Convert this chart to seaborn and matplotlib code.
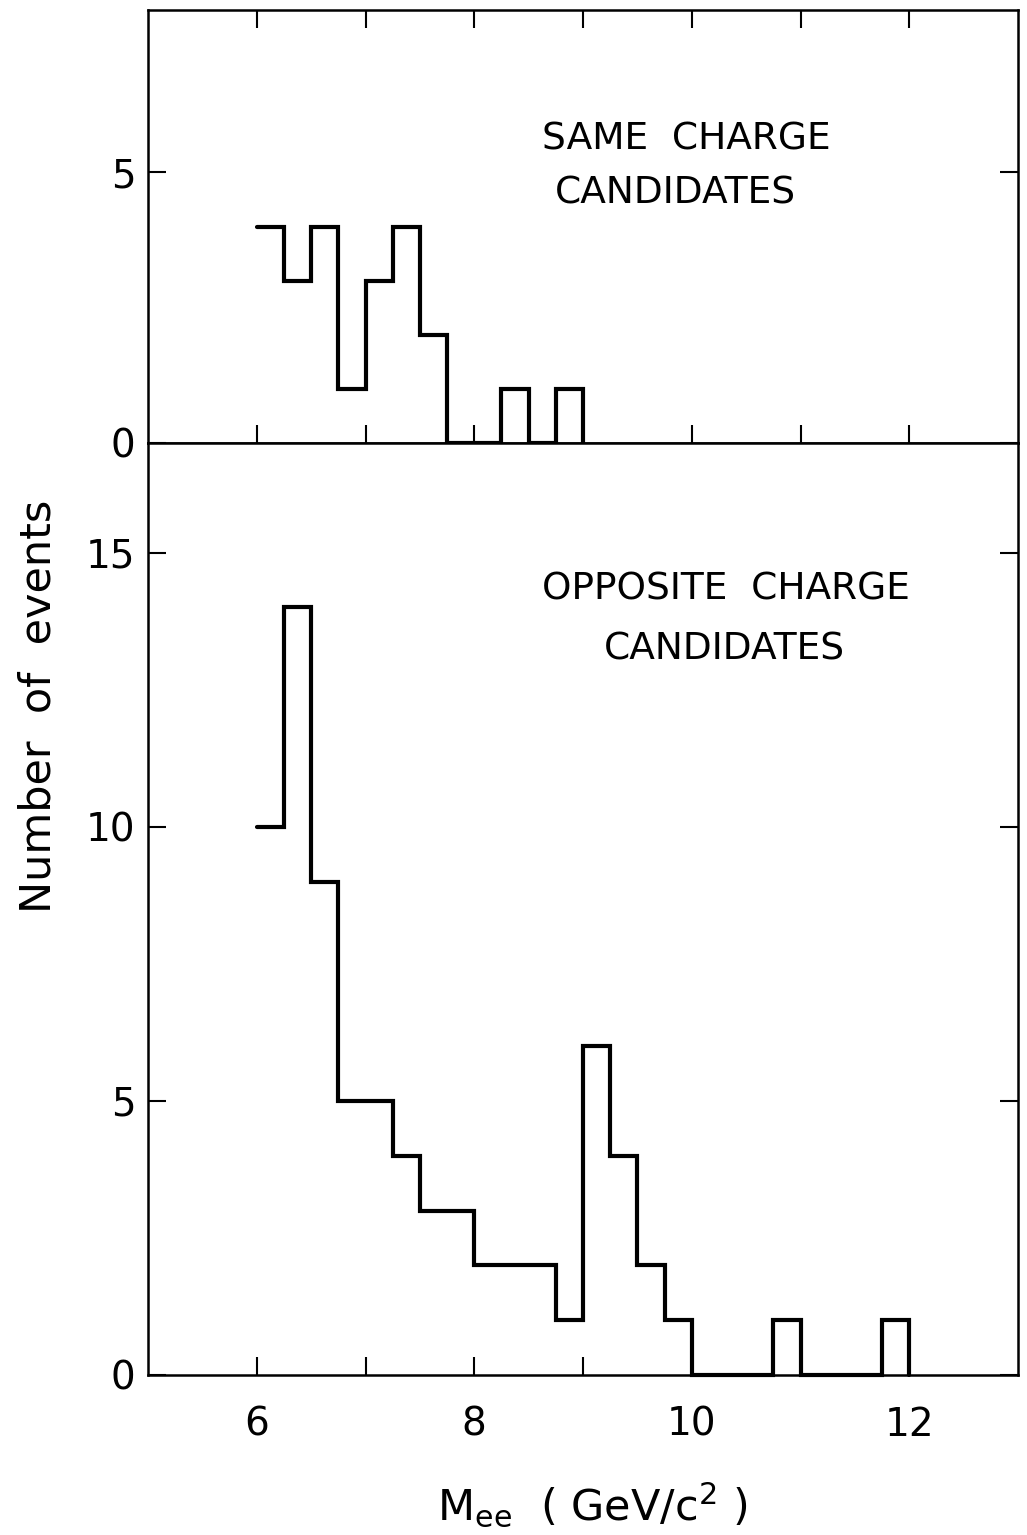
import numpy as np
import pandas as pd
import matplotlib
matplotlib.use("Agg")
import matplotlib.pyplot as plt
from matplotlib.ticker import FixedLocator, FuncFormatter
import seaborn as sns

# Dielectron invariant-mass histograms, 0.25 GeV/c^2 bins
bin_width = 0.25

same_low = [6.00, 6.25, 6.50, 6.75, 7.00, 7.25, 7.50, 7.75, 8.00, 8.25, 8.50, 8.75]
same_counts = [4, 3, 4, 1, 3, 4, 2, 0, 0, 1, 0, 1]

opp_low = [6.00, 6.25, 6.50, 6.75, 7.00, 7.25, 7.50, 7.75, 8.00, 8.25, 8.50, 8.75,
           9.00, 9.25, 9.50, 9.75, 10.00, 10.25, 10.50, 10.75, 11.00, 11.25, 11.50, 11.75]
opp_counts = [10, 14, 9, 5, 5, 4, 3, 3, 2, 2, 2, 1,
              6, 4, 2, 1, 0, 0, 0, 1, 0, 0, 0, 1]

x_major = [6, 8, 10, 12]
x_all = [6, 7, 8, 9, 10, 11, 12]
top_yticks = [0, 5]
bot_yticks = [0, 5, 10, 15]


def step_frame(low, counts):
    # close the outline by dropping to zero at the upper edge of the last bin
    x = list(low) + [low[-1] + bin_width]
    y = list(counts) + [0]
    return pd.DataFrame({"mass": x, "events": y})


sns.set_theme(style="white")
plt.rcParams["font.family"] = ["DejaVu Sans"]
plt.rcParams["mathtext.fontset"] = "dejavusans"

W, H = 1027, 1535
fig = plt.figure(figsize=(W / 100, H / 100), dpi=100)


def box(l, t, r, b):
    return [l / W, 1 - b / H, (r - l) / W, (b - t) / H]


ax_top = fig.add_axes(box(148, 10, 1018, 443))
ax_bot = fig.add_axes(box(148, 443, 1018, 1375))

line_kw = dict(color="black", linewidth=3.0, drawstyle="steps-post",
               solid_joinstyle="miter", clip_on=False)
sns.lineplot(data=step_frame(same_low, same_counts), x="mass", y="events",
             ax=ax_top, **line_kw)
sns.lineplot(data=step_frame(opp_low, opp_counts), x="mass", y="events",
             ax=ax_bot, **line_kw)

for ax in (ax_top, ax_bot):
    ax.set_xlim(5, 13)
    for sp in ax.spines.values():
        sp.set_visible(True)
        sp.set_color("black")
        sp.set_linewidth(1.8)
    ax.set_xlabel("")
    ax.set_ylabel("")
    ax.xaxis.set_major_locator(FixedLocator(x_all))

ax_top.set_ylim(0, 8)
ax_bot.set_ylim(0, 17)

tick_kw = dict(direction="in", length=13, width=1.5, color="black", labelcolor="black")

# upper panel: ticks on all sides, only y labels
ax_top.tick_params(axis="x", bottom=True, top=True, labelbottom=False, labeltop=False, **tick_kw)
ax_top.set_yticks(top_yticks)
ax_top.tick_params(axis="y", left=True, right=True, labelleft=True, labelsize=28, pad=9, **tick_kw)

# lower panel
ax_bot.xaxis.set_major_formatter(FuncFormatter(lambda v, p: f"{int(v)}" if int(v) in x_major else ""))
ax_bot.tick_params(axis="x", bottom=True, top=False, labelsize=28, pad=22, **tick_kw)
ax_bot.set_yticks(bot_yticks)
ax_bot.tick_params(axis="y", left=True, right=True, labelleft=True, labelsize=28, pad=9, **tick_kw)

ax_bot.set_ylabel("Number  of  events", fontsize=31, color="black")
ax_bot.yaxis.set_label_coords((60 - 148) / 870, 1 - (706 - 443) / 932)
ax_bot.set_xlabel(r"M$_{\mathregular{ee}}$  ( GeV/c$^{\mathregular{2}}$ )", fontsize=31, color="black")
ax_bot.xaxis.set_label_coords((592 - 148) / 870, -(1480 - 1375) / 932)

txt_kw = dict(ha="center", va="baseline", fontsize=27, color="black")
fig.text(686 / W, 1 - 149 / H, "SAME  CHARGE", **txt_kw)
fig.text(675 / W, 1 - 203 / H, "CANDIDATES", **txt_kw)
fig.text(726 / W, 1 - 600 / H, "OPPOSITE  CHARGE", **txt_kw)
fig.text(724 / W, 1 - 660 / H, "CANDIDATES", **txt_kw)

fig.savefig("out.png", dpi=100, facecolor="white")
